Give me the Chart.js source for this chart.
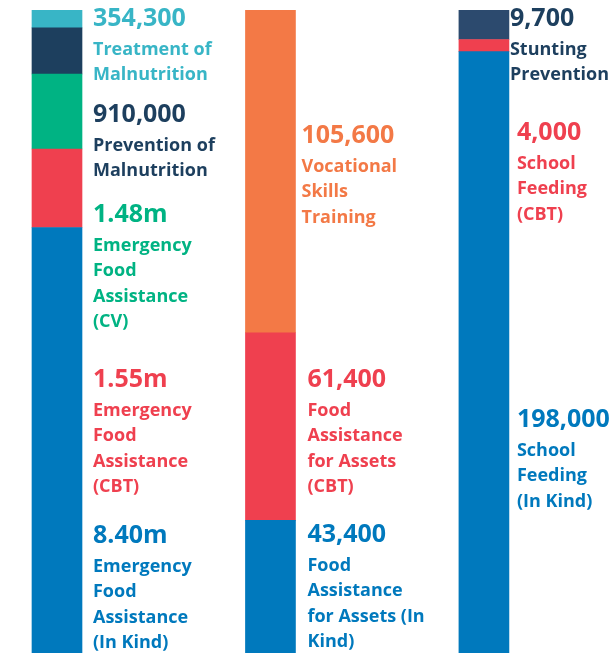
<!DOCTYPE html>
<html lang="en">
<head>
    <meta charset="UTF-8">
    <title>Beneficiaries by Programme</title>
    <script src="https://cdn.jsdelivr.net/npm/chart.js"></script>
    <style>
        body { margin: 0; background: #fff; }
    </style>
</head>
<body>
    <canvas id="programmeChart" width="615" height="653"></canvas>
    <script>
        // values per column, bottom segment first
        const emergencyValues = [8400000, 1550000, 1480000, 910000, 354300];
        const emergencyFigures = ['8.40m', '1.55m', '1.48m', '910,000', '354,300'];
        const emergencyNames = [
            ['Emergency', 'Food', 'Assistance', '(In Kind)'],
            ['Emergency', 'Food', 'Assistance', '(CBT)'],
            ['Emergency', 'Food', 'Assistance', '(CV)'],
            ['Prevention of', 'Malnutrition'],
            ['Treatment of', 'Malnutrition']
        ];

        const resilienceValues = [43400, 61400, 105600];
        const resilienceFigures = ['43,400', '61,400', '105,600'];
        const resilienceNames = [
            ['Food', 'Assistance', 'for Assets (In', 'Kind)'],
            ['Food', 'Assistance', 'for Assets', '(CBT)'],
            ['Vocational', 'Skills', 'Training']
        ];

        const schoolValues = [198000, 4000, 9700];
        const schoolFigures = ['198,000', '4,000', '9,700'];
        const schoolNames = [
            ['School', 'Feeding', '(In Kind)'],
            ['School', 'Feeding', '(CBT)'],
            ['Stunting', 'Prevention']
        ];

        // colours and label placement (x offset from bar centre, y of figure)
        const emergencyColors = ['#0079bd', '#ef404f', '#00b383', '#1d3f5e', '#38b5c6'];
        const emergencyLabelPos = [[36, 536], [36, 380], [36, 215], [36, 115], [36, 19]];
        const resilienceColors = ['#0079bd', '#ef404f', '#f37946'];
        const resilienceLabelPos = [[37, 535], [37, 380], [31, 136]];
        const schoolColors = ['#0079bd', '#ef404f', '#2c4a6e'];
        const schoolLabelPos = [[33, 420], [33, 133], [26, 19]];
        const textColors = { '#2c4a6e': '#1d3f5e' };

        const columns = [
            { values: emergencyValues, figures: emergencyFigures, names: emergencyNames, colors: emergencyColors, pos: emergencyLabelPos },
            { values: resilienceValues, figures: resilienceFigures, names: resilienceNames, colors: resilienceColors, pos: resilienceLabelPos },
            { values: schoolValues, figures: schoolFigures, names: schoolNames, colors: schoolColors, pos: schoolLabelPos }
        ];

        const datasets = [];
        columns.forEach((col, ci) => {
            const total = col.values.reduce((a, b) => a + b, 0);
            col.values.forEach((v, i) => {
                datasets.push({
                    data: [{ x: ci, y: v / total * 100 }],
                    backgroundColor: col.colors[i],
                    borderWidth: 0,
                    barThickness: 50,
                    figure: col.figures[i],
                    names: col.names[i],
                    labelPos: col.pos[i],
                    column: ci
                });
            });
        });

        const sideLabels = {
            id: 'sideLabels',
            afterDraw(chart) {
                const ctx = chart.ctx;
                const xScale = chart.scales.x;
                ctx.save();
                ctx.textAlign = 'left';
                ctx.textBaseline = 'middle';
                chart.data.datasets.forEach(ds => {
                    const x = xScale.getPixelForValue(ds.column) + ds.labelPos[0];
                    let y = ds.labelPos[1];
                    ctx.fillStyle = textColors[ds.backgroundColor] || ds.backgroundColor;
                    ctx.font = 'bold 25px "Open Sans"';
                    ctx.fillText(ds.figure, x, y);
                    ctx.font = 'bold 18px "Open Sans"';
                    y += 31;
                    ds.names.forEach(line => {
                        ctx.fillText(line, x, y);
                        y += 25.2;
                    });
                });
                ctx.restore();
            }
        };

        new Chart(document.getElementById('programmeChart'), {
            type: 'bar',
            data: { datasets: datasets },
            options: {
                responsive: false,
                animation: false,
                layout: { padding: { top: 10, bottom: 0, left: 0, right: 0 } },
                scales: {
                    x: {
                        type: 'linear',
                        stacked: true,
                        offset: false,
                        min: -0.267,
                        max: 2.614,
                        display: false
                    },
                    y: {
                        stacked: true,
                        min: 0,
                        max: 100,
                        display: false
                    }
                },
                plugins: {
                    legend: { display: false },
                    tooltip: { enabled: false }
                }
            },
            plugins: [sideLabels]
        });
    </script>
</body>
</html>
